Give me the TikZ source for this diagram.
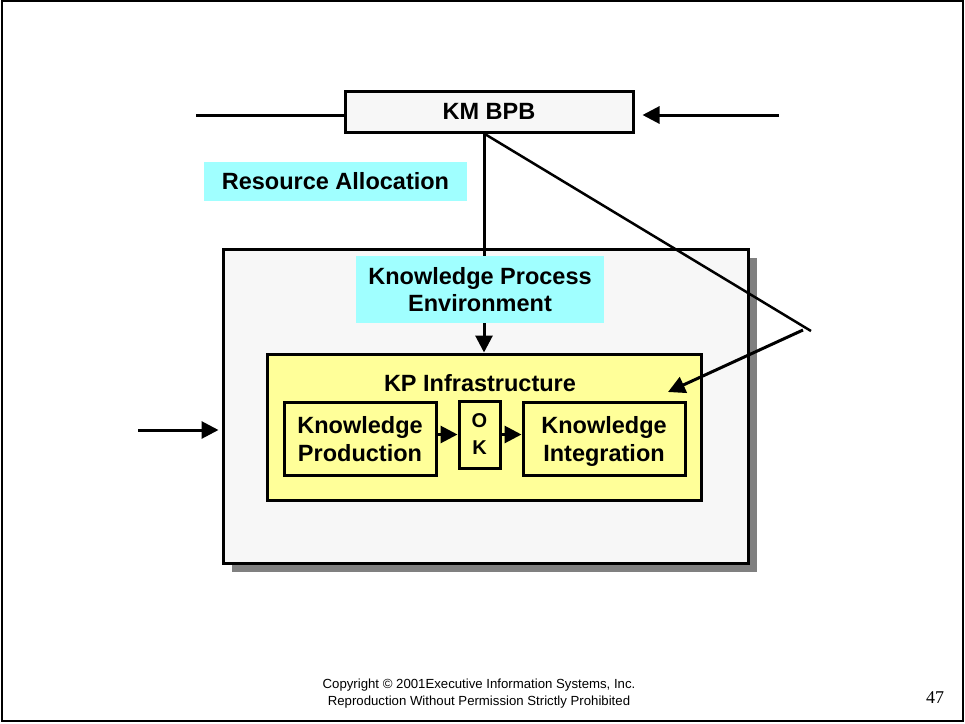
\documentclass[tikz,border=0pt]{standalone}
\usepackage{fontspec}
\setmainfont{Liberation Sans}
\newfontfamily\serifnum{Liberation Serif}
\usetikzlibrary{arrows.meta,shadows}

\definecolor{panelgrey}{HTML}{F7F7F7}
\definecolor{labelcyan}{HTML}{A0FFFF}
\definecolor{infrayellow}{HTML}{FFFF99}
\definecolor{shadowgrey}{HTML}{808080}

\tikzset{
  blk/.style={draw=black, line width=3pt, inner sep=0pt, align=center,
    font=\fontsize{23.5}{28}\selectfont\bfseries},
  tag/.style={fill=labelcyan, inner sep=0pt, align=center,
    font=\fontsize{23.5}{27}\selectfont\bfseries},
  flow/.style={line width=3pt, -{Triangle[length=17pt,width=17pt]}},
}

\begin{document}
\begin{tikzpicture}[x=1pt,y=-1pt]
\useasboundingbox (0,0) rectangle (965,723);
\draw [line width=2pt] (2,1) rectangle (963,721);
% top block
\node [blk, fill=panelgrey, minimum width=288pt, minimum height=41pt] (kmbpb) at (489,111.5) {KM BPB};
\node [tag, minimum width=263pt, minimum height=39pt] (resalloc) at (335.5,181.5) {Resource Allocation};
\coordinate (lin) at (196,115);
\coordinate (rin) at (779,115);
\draw [line width=3pt] (lin) -- (lin -| kmbpb.west);
\draw [flow, shorten >=8pt] (rin) -- (rin -| kmbpb.east);
% environment
\node [blk, fill=panelgrey, minimum width=525pt, minimum height=314pt,
  drop shadow={shadow xshift=9pt, shadow yshift=-9pt, fill=shadowgrey, opacity=1}] (env) at (485.5,406) {};
\node [blk, fill=infrayellow, minimum width=434pt, minimum height=146pt] (kpi) at (484,427) {};
\node [font=\fontsize{23.5}{28}\selectfont\bfseries] (kpititle) at (480,383) {KP Infrastructure};
\node [blk, fill=infrayellow, minimum width=152pt, minimum height=73pt, text depth=0pt] (kprod) at (360,438.5) {Knowledge\\Production};
\node [blk, fill=infrayellow, minimum width=41pt, minimum height=67pt, font=\fontsize{20}{27}\selectfont\bfseries] (okbox) at (479.5,434.5) {O\\K};
\node [blk, fill=infrayellow, minimum width=162pt, minimum height=73pt, text depth=0pt] (kint) at (604,438.5) {Knowledge\\Integration};
\draw [flow] (kprod.east |- okbox) -- (okbox.west);
\draw [flow] (okbox.east) -- (okbox.east -| kint.west);
% connectors from the top
\coordinate (apex) at (811,331);
\coordinate (knee) at (803,330);
\coordinate (kitip) at (668,392);
\coordinate (ein) at (138,430);
\draw [line width=2.5pt] (kpi.north |- kmbpb.south) -- (apex);
\draw [flow] (kpi.north |- kmbpb.south) -- (kpi.north);
\draw [flow] (knee) -- (kitip);
\draw [flow, shorten >=3pt] (ein) -- (ein -| env.west);
\node [tag, minimum width=248pt, minimum height=67pt] (kpenv) at (480,289.5) {Knowledge Process\\Environment};
% footer
\node [font=\fontsize{13.2}{17}\selectfont, align=center] (copy) at (479,693.5) {Copyright \textcopyright{} 2001Executive Information Systems, Inc.\\Reproduction Without Permission Strictly Prohibited};
\node [font=\serifnum\fontsize{18}{20}\selectfont] (pageno) at (935,698) {47};
\end{tikzpicture}
\end{document}
